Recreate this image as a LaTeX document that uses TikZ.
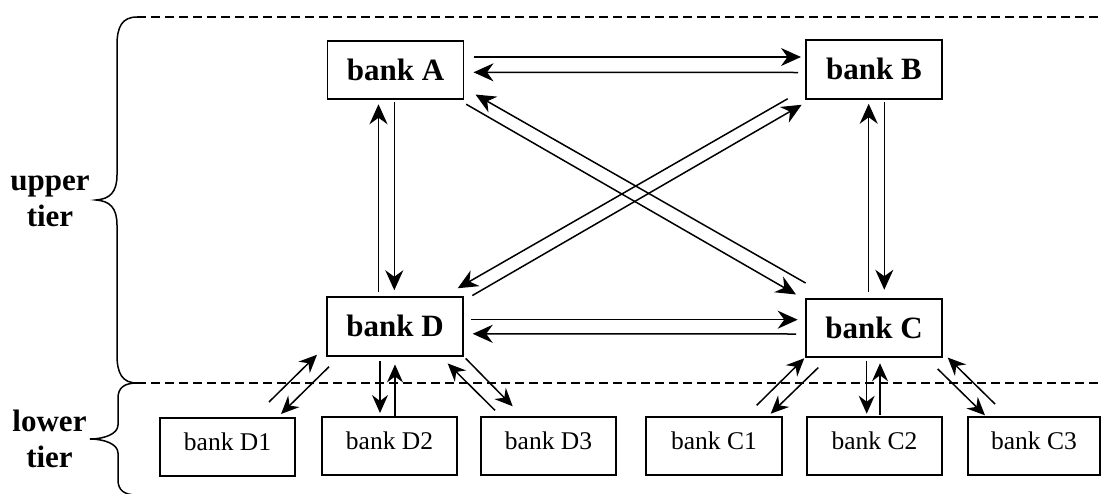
\documentclass[tikz,border=0pt]{standalone}
\usepackage{fontspec}
\setmainfont{Liberation Serif}
\usetikzlibrary{arrows.meta,calc}
\begin{document}
\begin{tikzpicture}[x=1pt,y=-1pt,
  bigbox/.style={draw, line width=1.8pt, minimum width=136pt, minimum height=58.5pt, inner sep=0pt, outer sep=0pt,
    font=\fontsize{31}{36}\selectfont\bfseries, text height=21pt, text depth=1pt},
  smallbox/.style={draw, line width=1.8pt, minimum width=135pt, minimum height=58pt, inner sep=0pt, outer sep=0pt,
    font=\fontsize{25.5}{30}\selectfont, text height=17pt, text depth=10pt},
  tierlabel/.style={align=center, inner sep=0pt, font=\fontsize{31}{36}\selectfont\bfseries},
  arr/.style={line width=1.5pt, -{Stealth[length=20pt,width=18pt,inset=6.5pt]}},
  sarr/.style={line width=1.5pt, -{Stealth[length=18pt,width=16pt,inset=6pt]}},
  bound/.style={line width=1.4pt, dash pattern=on 9pt off 5pt},
  bracepath/.style={line width=1.5pt}
]
\useasboundingbox (0,0) rectangle (1101,493);

% tier boundaries
\draw[bound] (137,17) -- (1101,17);
\draw[bound] (137,383) -- (1101,383);

% braces
\draw[bracepath] (137,17) .. controls (122,17) and (117,27) .. (117,45) -- (117,175)
  .. controls (117,192) and (110,199) .. (96,200)
  .. controls (110,201) and (117,208) .. (117,225) -- (117,355)
  .. controls (117,373) and (122,383) .. (137,383);
\draw[bracepath] (137,383) .. controls (124,383) and (118,388) .. (118,398) -- (118,425)
  .. controls (118,434) and (104,439) .. (90,439)
  .. controls (104,439) and (118,444) .. (118,453) -- (118,480)
  .. controls (118,490) and (124,495) .. (137,495);

\node[tierlabel] (up) at (50,201.6) {upper\\tier};
\node[tierlabel] (low) at (49.5,438.5) {lower\\tier};

% upper tier banks
\node[bigbox] (A) at (395.5,70) {bank A};
\node[bigbox] (B) at (874,69.5) {bank B};
\node[bigbox] (D) at (395,326.5) {bank D};
\node[bigbox] (C) at (874,328) {bank C};

% lower tier banks
\node[smallbox] (D1) at (227.5,447) {bank D1};
\node[smallbox] (D2) at (389.5,446) {bank D2};
\node[smallbox] (D3) at (548.5,446) {bank D3};
\node[smallbox, minimum width=136pt] (C1) at (714,446) {bank C1};
\node[smallbox] (C2) at (874.5,446) {bank C2};
\node[smallbox, minimum width=132pt] (C3) at (1034,446) {bank C3};

% A <-> B
\draw[arr] ($(A.east)+(10,-13)$) -- ($(B.west)+(-5,-12.5)$);
\draw[arr] ($(B.west)+(-8,3)$) -- ($(A.east)+(10,2.3)$);
% A <-> D
\draw[arr] ($(D.north)+(-16.5,-5)$) -- ($(A.south)+(-17,5)$);
\draw[arr] ($(A.south)+(-1.2,3)$) -- ($(D.north)+(-0.7,-7)$);
% B <-> C
\draw[arr] ($(C.north)+(-5.3,-7)$) -- ($(B.south)+(-5.3,5)$);
\draw[arr] ($(B.south)+(10.3,3)$) -- ($(C.north)+(10.3,-9)$);
% D <-> C
\draw[arr] ($(D.east)+(8,-6.8)$) -- ($(C.west)+(-8.3,-8.3)$);
\draw[arr] ($(C.west)+(-10,6)$) -- ($(D.east)+(9.7,7.3)$);
% D <-> B
\draw[arr] ($(D.north east)+(9.3,-1.7)$) -- ($(B.south west)+(-4.3,6)$);
\draw[arr] ($(B.south west)+(-18.3,0)$) -- ($(D.north east)+(-5.3,-9)$);
% A <-> C
\draw[arr] ($(A.south east)+(2.7,5)$) -- ($(C.north west)+(-10,-4.3)$);
\draw[arr] ($(C.north west)+(-0.3,-15.7)$) -- ($(A.south east)+(12,-4.7)$);

% D <-> lower
\draw[sarr] ($(D1.north east)+(-26,-16)$) -- ($(D.south west)+(-10,-1)$);
\draw[sarr] ($(D.south west)+(2,11)$) -- ($(D1.north east)+(-14,-4)$);
\draw[sarr] ($(D.south)+(-15,5.3)$) -- ($(D2.north)+(-9.5,-4)$);
\draw[sarr] ($(D2.north)+(5.5,-0.7)$) -- ($(D.south)+(0,8.7)$);
\draw[sarr] ($(D3.north west)+(14,-6.7)$) -- ($(D.south east)+(-15.3,7.7)$);
\draw[sarr] ($(D.south east)+(2.7,2.7)$) -- ($(D3.north west)+(31.7,-10.7)$);

% C <-> lower
\draw[sarr] ($(C1.north east)+(-25.3,-11.7)$) -- ($(C.south west)+(-1.7,1)$);
\draw[sarr] ($(C.south west)+(12.3,10.3)$) -- ($(C1.north east)+(-11.3,-3.3)$);
\draw[sarr] ($(C.south)+(-7.3,3.3)$) -- ($(C2.north)+(-7.8,-3.3)$);
\draw[sarr] ($(C2.north)+(5.5,-2.3)$) -- ($(C.south)+(6,6)$);
\draw[sarr] ($(C3.north west)+(27,-13)$) -- ($(C.south east)+(5.7,0.3)$);
\draw[sarr] ($(C.south east)+(-4.3,11.7)$) -- ($(C3.north west)+(17,-1.7)$);
\end{tikzpicture}
\end{document}
